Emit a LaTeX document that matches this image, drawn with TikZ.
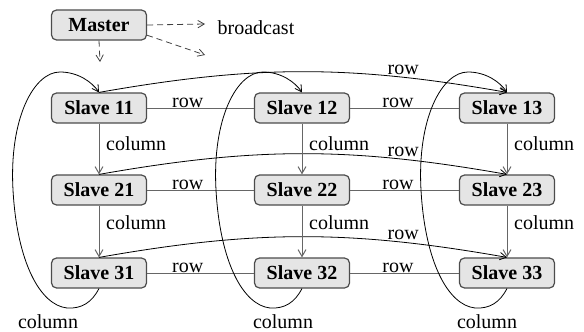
\documentclass[tikz,border=0pt]{standalone}
\usepackage{fontspec}
\setmainfont{Liberation Serif}
\usetikzlibrary{arrows}

\tikzset{
	proc/.style={draw=black!70, fill=gray!20, rounded corners=2.5pt, line width=0.6pt,
		minimum width=47.5pt, minimum height=15pt, inner sep=1pt, font=\bfseries},
	link/.style={draw=black!60, line width=0.5pt},
	wrap/.style={->, line width=0.4pt},
	bcast/.style={->, dash pattern=on 3pt off 2pt, draw=black!75, line width=0.4pt},
}

\begin{document}
\begin{tikzpicture}[x=0.5pt,y=0.5pt,>=angle 60]
	\useasboundingbox (0,0) rectangle (584,-332);

	% master and broadcast
	\node[proc] (m) at (99,-25) {Master};
	\coordinate (b1) at (205,-24);
	\coordinate (b2) at (205,-55);
	\coordinate (d1) at (100,-62);
	\draw[bcast] (m.east) -- (b1);
	\draw[bcast] (m.-12) -- (b2);
	\draw[bcast] (m.south) -- (d1);
	\node (bc) at (256,-28) {broadcast};

	% slaves
	\foreach \r/\y in {1/-108,2/-190,3/-273}{
		\node[proc] (s\r1) at (99,\y) {Slave \r1};
		\node[proc] (s\r2) at (302,\y) {Slave \r2};
		\node[proc] (s\r3) at (507,\y) {Slave \r3};
	}

	% rows
	\foreach \r in {1,2,3}{
		\draw[link] (s\r1) -- node[pos=0.38,above,inner sep=0pt]{row} (s\r2);
		\draw[link] (s\r2) -- node[pos=0.44,above,inner sep=0pt]{row} (s\r3);
		\draw[wrap] (s\r1.north) to[bend left=10] node[pos=0.76,above,inner sep=1pt]{row} (s\r3.north);
	}

	% columns
	\foreach \c in {1,2,3}{
		\draw[link,->] (s1\c) -- node[pos=0.4,right]{column} (s2\c);
		\draw[link,->] (s2\c) -- node[pos=0.32,right]{column} (s3\c);
	}
	\foreach \c/\dx in {1/0,2/203,3/408}
		\draw[wrap,shift={(\dx,0)}] (s3\c.south) .. controls (92,-302) and (82,-309) .. (67,-308)
			.. controls (40,-305) and (17,-262) .. (13,-190)
			.. controls (9,-118) and (34,-72) .. (60,-72)
			.. controls (78,-72) and (92,-82) .. (s1\c.north);
	\node (c1) at (48,-322) {column};
	\node (c2) at (283,-322) {column};
	\node (c3) at (487,-322) {column};
\end{tikzpicture}
\end{document}
